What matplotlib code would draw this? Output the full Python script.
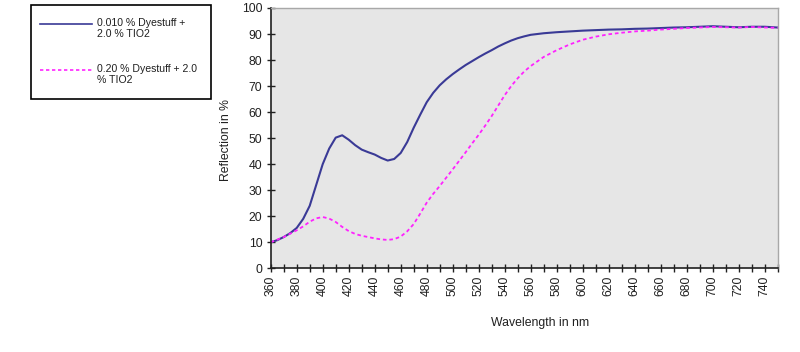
import matplotlib
matplotlib.use("Agg")
import matplotlib.pyplot as plt
from matplotlib.lines import Line2D
from matplotlib.patches import Rectangle

plt.rcParams['font.family'] = ['Liberation Sans', 'DejaVu Sans']

wavelength = list(range(360, 560, 5)) + list(range(560, 751, 10))
series1_label = "0.010 % Dyestuff +\n2.0 % TIO2"
series2_label = "0.20 % Dyestuff + 2.0\n% TIO2"
series1 = [10, 10.8, 12, 13.5, 15.5, 19, 24, 32, 40, 46,
           50.2, 51.1, 49.4, 47.3, 45.6, 44.6, 43.7, 42.4, 41.4, 42,
           44.3, 48.5, 54, 59, 63.8, 67.4, 70.3, 72.6, 74.6, 76.4,
           78.1, 79.6, 81.1, 82.5, 83.8, 85.2, 86.4, 87.5, 88.4, 89.1,
           89.7, 90.3, 90.7, 91.0, 91.3, 91.5, 91.7, 91.8, 92.0, 92.1,
           92.3, 92.5, 92.6, 92.8, 93.0, 92.8, 92.6, 92.8, 92.8, 92.5]
series2 = [10, 11, 12, 13.3, 14.6, 16.1, 17.9, 19.2, 19.7, 19.1,
           17.8, 15.9, 14.3, 13.2, 12.5, 12, 11.5, 11.1, 10.9, 11.2,
           12.2, 14.2, 17, 21, 25.2, 28.6, 31.6, 34.8, 38, 41.3,
           44.6, 48, 51.3, 54.8, 58.5, 62.5, 66.5, 70, 73, 75.6,
           77.7, 81.2, 83.8, 86.0, 87.8, 89.0, 89.9, 90.5, 91.0, 91.3,
           91.7, 92.0, 92.3, 92.5, 92.7, 92.6, 92.5, 92.7, 92.5, 92.4]
x_major = list(range(360, 741, 20))
y_ticks = list(range(0, 101, 10))

fig = plt.figure(figsize=(8.0, 3.52), dpi=100)
ax = fig.add_axes([270.7/800, 1-268.3/352, (777.7-270.7)/800, (268.3-8)/352])
ax.set_facecolor('#e6e6e6')

c1 = '#3a3a96'
c2 = '#ff22ff'
ax.plot(wavelength, series1, color=c1, lw=1.5, solid_capstyle='round', solid_joinstyle='round')
ax.plot(wavelength, series2, color=c2, lw=1.3, linestyle=(0, (2, 1.6)))

ax.set_xlim(360, 750)
ax.set_ylim(0, 100)
ax.set_xticks(x_major)
ax.set_xticks(list(range(360, 751, 10)), minor=True)
ax.set_yticks(y_ticks)
ax.tick_params(axis='both', which='both', direction='inout', length=6, width=1,
               color='#202020', labelsize=8.8, labelcolor='#202020')
ax.tick_params(axis='x', which='major', labelrotation=90, pad=2)
ax.tick_params(axis='y', pad=3)
for s in ['top', 'right']:
    ax.spines[s].set_color('#a8a8a8')
    ax.spines[s].set_linewidth(1)
for s in ['left', 'bottom']:
    ax.spines[s].set_color('#202020')
    ax.spines[s].set_linewidth(1.2)

fig.text(226/800, 1-140/352, 'Reflection in %', rotation=90, ha='center', va='center',
         fontsize=8.8, color='#202020')
fig.text(540/800, 1-323/352, 'Wavelength in nm', ha='center', va='center',
         fontsize=8.8, color='#202020')

# legend box
fig.patches.append(Rectangle((31/800, 1-99/352), 180/800, 94/352, transform=fig.transFigure,
                             facecolor='white', edgecolor='black', lw=1.2))
fig.lines.append(Line2D([40/800, 92/800], [1-24/352, 1-24/352], transform=fig.transFigure,
                        color=c1, lw=1.2))
fig.lines.append(Line2D([40/800, 92/800], [1-70/352, 1-70/352], transform=fig.transFigure,
                        color=c2, lw=1.2, linestyle=(0, (2, 1.6))))
fig.text(97/800, 1-18.5/352, series1_label, ha='left', va='top', fontsize=7.6,
         color='#202020', linespacing=1.1)
fig.text(97/800, 1-64.5/352, series2_label, ha='left', va='top', fontsize=7.6,
         color='#202020', linespacing=1.1)

fig.savefig('out.png', dpi=100)
